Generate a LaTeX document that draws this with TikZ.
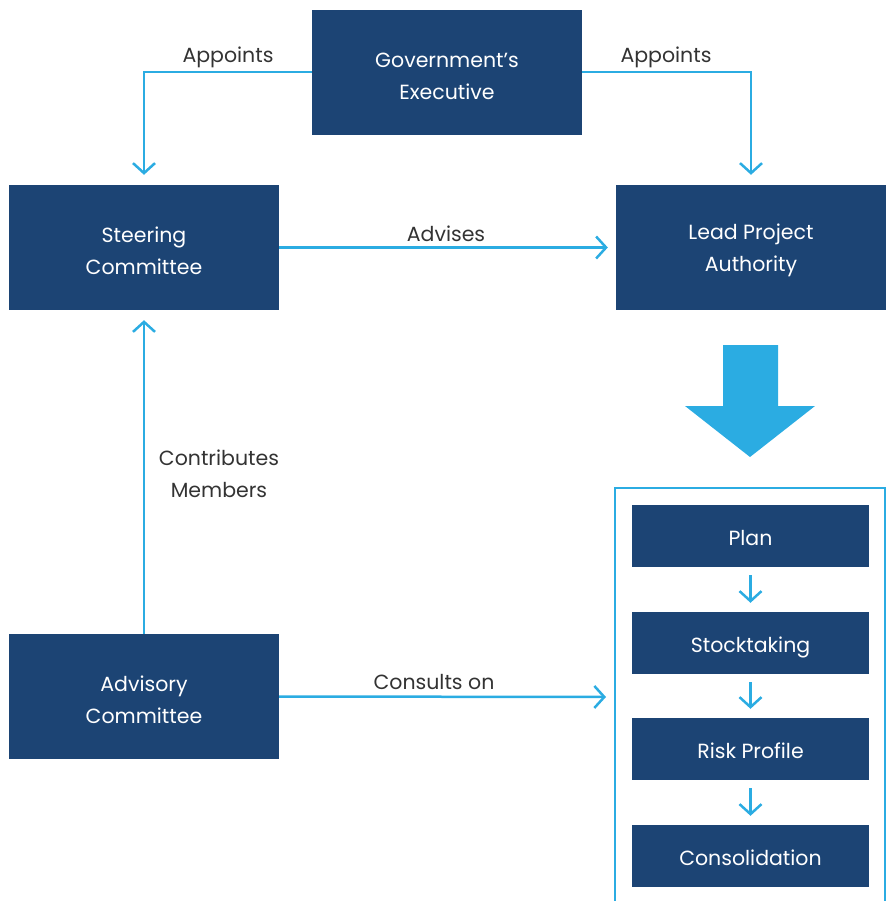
\documentclass[tikz,border=0pt]{standalone}
\usepackage{fontspec}
\setmainfont{Poppins}
\usetikzlibrary{arrows.meta,positioning}
\definecolor{navy}{HTML}{1C4474}
\definecolor{sky}{HTML}{2BACE2}
\definecolor{ink}{HTML}{333333}
\newcommand{\topstrut}{\rule{0pt}{22pt}}
\begin{document}
\begin{tikzpicture}[x=1pt,y=-1pt,
  box/.style={fill=navy,draw=none,text=white,align=center,inner sep=0pt,
    minimum width=270pt,minimum height=125pt,font=\fontsize{20.5}{32}\selectfont},
  stepbox/.style={fill=navy,draw=none,text=white,align=center,inner sep=0pt,
    minimum width=237pt,minimum height=62pt,font=\fontsize{20.5}{32}\selectfont,
    text height=19pt,text depth=0pt},
  conn/.style={draw=sky,line width=2.5pt,-{Straight Barb[length=10pt,width=22pt,line width=2.5pt]}},
  lbl/.style={text=ink,align=center,inner sep=0pt,font=\fontsize{20.5}{32}\selectfont}]
\useasboundingbox (0,0) rectangle (889,901);
\node[box] (gov) at (447,72.5) {\topstrut Government’s\\Executive};
\node[box] (steer) at (144,247.5) {\topstrut Steering\\Committee};
\node[box] (lead) at (751,247.5) {\topstrut Lead Project\\Authority};
\node[box] (adv) at (144,696.5) {\topstrut Advisory\\Committee};
% container
\coordinate (cbl) at (615,901);
\coordinate (ctl) at (615,488);
\coordinate (ctr) at (885,488);
\coordinate (cbr) at (885,901);
\coordinate (cin) at (614,697);
\draw[sky,line width=2.5pt] (cbl) -- (ctl) -- (ctr) -- (cbr);
\node[stepbox] (plan) at (750.5,536) {Plan};
\node[stepbox] (stock) at (750.5,643) {Stocktaking};
\node[stepbox] (risk) at (750.5,749) {Risk Profile};
\node[stepbox] (cons) at (750.5,856) {Consolidation};
% big arrow
\fill[sky] (723,345) -- (778,345) -- (778,406) -- (815,406) -- (750,457) -- (685,406) -- (723,406) -- cycle;
% connectors
\draw[conn,shorten >=10pt] (gov.west |- 0,72) -| (steer.north);
\draw[conn,shorten >=10pt] (gov.east |- 0,72) -| (lead.north);
\draw[conn,shorten >=8pt] (steer.east) -- (lead.west);
\draw[conn,shorten >=10pt] (adv.north) -- (steer.south);
\draw[conn,shorten >=8pt] (adv.east) -- (cin);
\draw[conn,shorten <=8pt,shorten >=9pt] (plan.south) -- (stock.north);
\draw[conn,shorten <=8pt,shorten >=9pt] (stock.south) -- (risk.north);
\draw[conn,shorten <=8pt,shorten >=9pt] (risk.south) -- (cons.north);
% labels
\node[lbl] (l1) at (228,57) {Appoints};
\node[lbl] (l2) at (666,57) {Appoints};
\node[lbl] (l3) at (446,234) {Advises};
\node[lbl] (l4) at (219,474) {Contributes\\Members};
\node[lbl] (l5) at (434,682) {Consults on};
\end{tikzpicture}
\end{document}
